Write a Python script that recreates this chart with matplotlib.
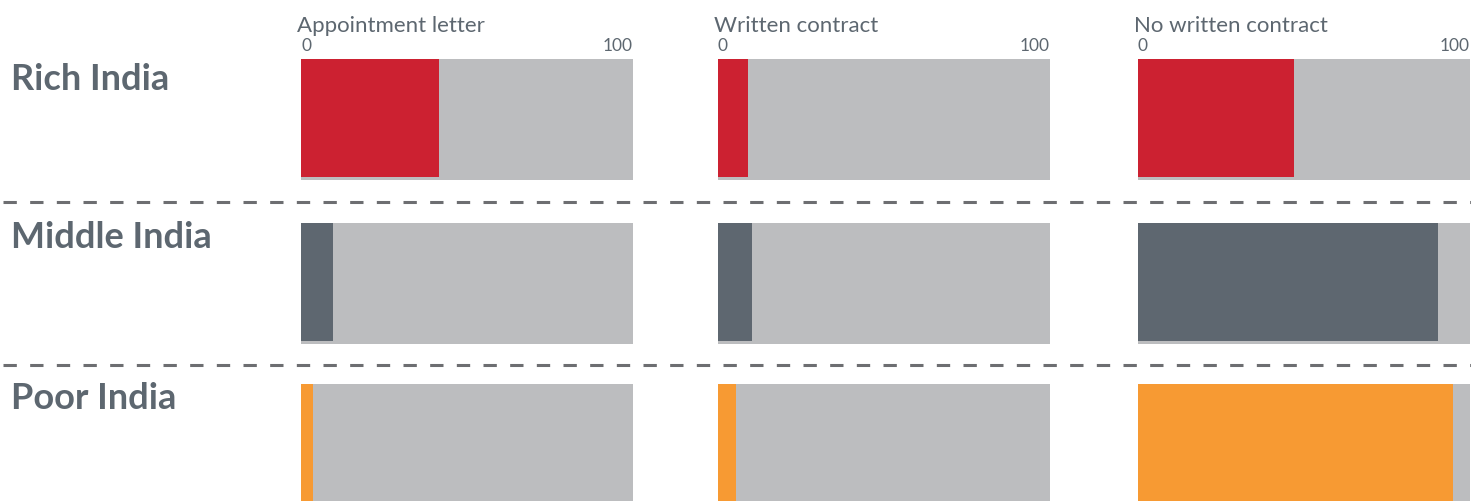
import matplotlib.pyplot as plt
from matplotlib.lines import Line2D

plt.rcParams['font.family'] = ['Lato', 'DejaVu Sans']
plt.rcParams['lines.scale_dashes'] = False

# data (percent)
groups = ["Rich India", "Middle India", "Poor India"]
columns = ["Appointment letter", "Written contract", "No written contract"]
rich = [41.6, 9.1, 47.0]
middle = [9.6, 10.2, 90.4]
poor = [3.6, 5.3, 94.9]
values = [rich, middle, poor]
ticks = [0, 100]

group_colors = ["#cc2131", "#5e6770", "#f79a33"]
back_color = "#bcbdbf"
text_color = "#5d6770"

W, H = 1471, 502
fig = plt.figure(figsize=(W / 100, H / 100), dpi=100)

def fx(px):
    return px / W

def fy(py):
    return 1 - py / H

col_left = [301, 718, 1138]
col_width = 332
row_top = [60, 224, 385]
row_height = 121
label_base = [90, 248, 409]

for r in range(3):
    fig.text(fx(11), fy(label_base[r]), groups[r], fontsize=26, fontweight='bold',
             color=text_color, va='baseline', ha='left')
    for c in range(3):
        ax = fig.add_axes([fx(col_left[c]), fy(row_top[r] + row_height),
                           col_width / W, row_height / H])
        ax.barh(0, 100, height=1, align='edge', color=back_color, linewidth=0)
        ax.barh(0.025, values[r][c], height=0.975, align='edge',
                color=group_colors[r], linewidth=0)
        ax.set_xlim(0, 100)
        ax.set_ylim(0, 1)
        ax.set_yticks([])
        for s in ax.spines.values():
            s.set_visible(False)
        if r == 0:
            ax.xaxis.tick_top()
            ax.set_xticks(ticks)
            ax.set_xticklabels([str(t) for t in ticks])
            ax.tick_params(axis='x', length=0, pad=4, labelsize=12.5, labelcolor=text_color)
            lbls = ax.get_xticklabels()
            lbls[0].set_ha('left')
            lbls[1].set_ha('right')
            fig.text(fx(col_left[c] - 4), fy(32), columns[c], fontsize=16,
                     color=text_color, va='baseline', ha='left')
        else:
            ax.set_xticks([])

# dashed separators
for y in [203, 366]:
    fig.add_artist(Line2D([fx(3), 1], [fy(y), fy(y)], transform=fig.transFigure,
                          color="#6d6e71", linewidth=2.2,
                          linestyle=(0, (9.6, 9.6))))

fig.savefig('out.png', dpi=100)
